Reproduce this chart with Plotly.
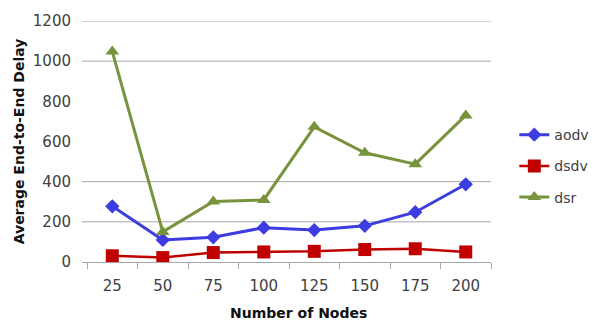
import plotly.graph_objects as go

# Network size (number of nodes) on the category axis
nodes = ["25", "50", "75", "100", "125", "150", "175", "200"]

# Average end-to-end delay per routing protocol
aodv = [277, 110, 123, 171, 159, 180, 248, 387]
dsdv = [31, 22, 47, 50, 53, 62, 66, 50]
dsr = [1048, 150, 301, 309, 673, 544, 487, 730]

y_ticks = [0, 200, 400, 600, 800, 1000, 1200]
grid_levels = [200, 400, 1000, 1200]

FONT = "DejaVu Sans"
GRID = "#a6a6a6"
TEXT = "#404040"

series = [
    ("aodv", aodv, "#3c3ce0", "diamond", 11, 3),
    ("dsdv", dsdv, "#c00000", "square", 13, 2.5),
    ("dsr", dsr, "#77933c", "triangle-up", 12, 3),
]

fig = go.Figure()
for name, vals, color, symbol, msize, lw in series:
    fig.add_trace(go.Scatter(
        x=nodes, y=vals, name=name, mode="lines+markers",
        legendgroup=name,
        line=dict(color=color, width=lw),
        marker=dict(symbol=symbol, size=msize, color=color,
                    line=dict(width=0)),
    ))

for lvl in grid_levels:
    fig.add_shape(type="line", xref="paper", yref="y", x0=0, x1=1,
                  y0=lvl, y1=lvl, line=dict(color=GRID, width=1),
                  layer="below")

fig.add_annotation(
    text="<b>Number of Nodes</b>", xref="paper", yref="paper",
    x=0.53, y=-0.21, xanchor="center", yanchor="middle", showarrow=False,
    font=dict(family=FONT, size=14, color="#111111"),
)

fig.update_layout(
    width=606, height=327,
    margin=dict(l=82, r=107, t=15, b=65),
    paper_bgcolor="white", plot_bgcolor="white",
    font=dict(family=FONT, color=TEXT),
    showlegend=True,
    legend=dict(x=1.057, y=0.593, xanchor="left", yanchor="top",
                font=dict(size=14, color=TEXT),
                tracegroupgap=10, bgcolor="rgba(0,0,0,0)"),
    xaxis=dict(
        type="category", range=[-0.6, 7.5],
        showgrid=False, showline=True, linecolor=GRID, linewidth=1,
        ticks="outside", tickson="boundaries", ticklen=6, tickcolor=GRID,
        ticklabelstandoff=10,
        tickfont=dict(size=15, color=TEXT),
    ),
    yaxis=dict(
        range=[0, 1200], tickvals=y_ticks, showgrid=False,
        zeroline=False, showline=False, ticks="",
        ticklabelstandoff=10,
        tickfont=dict(size=15, color=TEXT),
        title=dict(text="<b>Average End-to-End Delay</b>", standoff=4,
                   font=dict(size=14, color="#111111")),
    ),
)

fig.write_html("out.html")
